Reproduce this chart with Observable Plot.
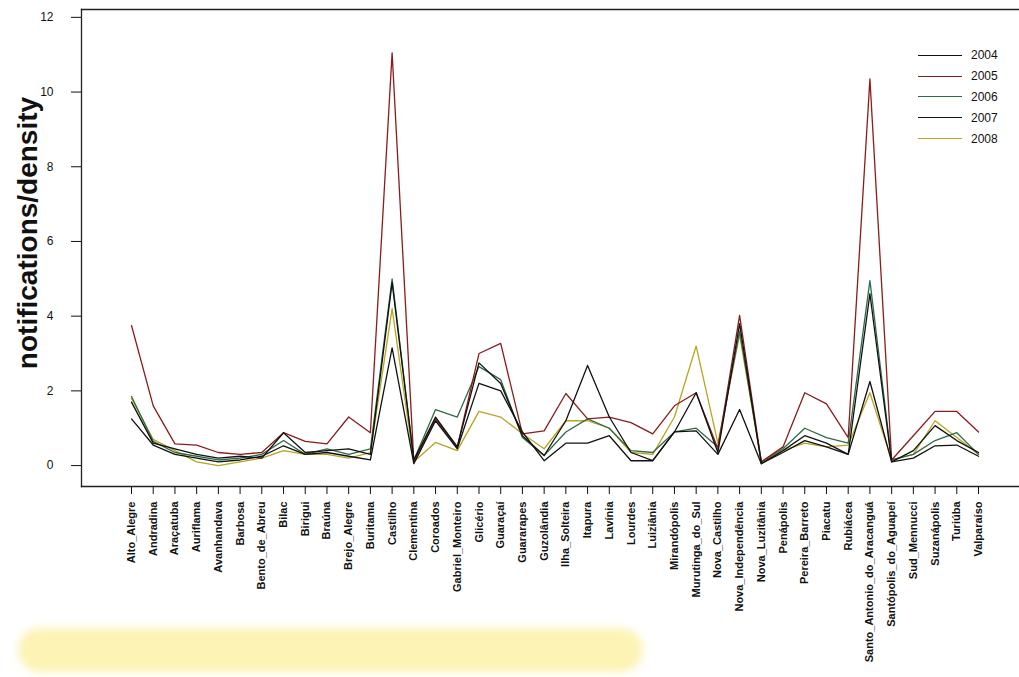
<!DOCTYPE html>
<html>
<head>
<meta charset="utf-8">
<script src="https://cdn.jsdelivr.net/npm/d3@7"></script>
<script src="https://cdn.jsdelivr.net/npm/@observablehq/plot@0.6"></script>
<style>
  body { margin: 0; background: #fff; }
  #wrap { position: relative; width: 1019px; height: 677px; overflow: hidden; background: #fff; }
  #blob { position: absolute; left: 18px; top: 628px; width: 625px; height: 44px; background: #fcf3b4; border-radius: 22px; filter: blur(4px); }
  #legend { position: absolute; left: 918px; top: 45px; font-family: "Liberation Sans", Arial, sans-serif; font-size: 12px; color: #111; }
  .item { display: flex; align-items: center; height: 20.8px; }
  .sw { width: 44px; height: 0; border-top: 1.5px solid #111; margin-right: 9px; }
  #chart { position: absolute; left: 0; top: 0; }
</style>
</head>
<body>
<div id="wrap">
  <div id="blob"></div>
  <div id="chart"></div>
  <div id="legend"></div>
</div>
<script>
const categories = ["Alto_Alegre","Andradina","Araçatuba","Auriflama","Avanhandava","Barbosa","Bento_de_Abreu","Bilac","Birigui","Braúna","Brejo_Alegre","Buritama","Castilho","Clementina","Coroados","Gabriel_Monteiro","Glicério","Guaraçaí","Guararapes","Guzolândia","Ilha_Solteira","Itapura","Lavínia","Lourdes","Luiziânia","Mirandópolis","Murutinga_do_Sul","Nova_Castilho","Nova_Independência","Nova_Luzitânia","Penápolis","Pereira_Barreto","Piacatu","Rubiácea","Santo_Antonio_do_Aracanguá","Santópolis_do_Aguapeí","Sud_Mennucci","Suzanápolis","Turiúba","Valparaíso"];

const years = ["2004","2005","2006","2007","2008"];

const v2004 = [1.7,0.6,0.45,0.3,0.2,0.25,0.2,0.88,0.35,0.4,0.45,0.3,4.9,0.15,1.3,0.5,2.75,2.2,0.8,0.27,1.2,2.68,1.3,0.35,0.13,0.9,1.95,0.35,3.8,0.05,0.4,0.8,0.6,0.3,4.6,0.1,0.4,1.07,0.67,0.35];
const v2005 = [3.75,1.6,0.58,0.55,0.35,0.3,0.35,0.88,0.65,0.58,1.3,0.88,11.05,0.1,1.25,0.5,3.0,3.27,0.85,0.93,1.93,1.25,1.3,1.15,0.85,1.6,1.95,0.45,4.02,0.1,0.5,1.95,1.65,0.75,10.35,0.15,0.8,1.45,1.45,0.9];
const v2006 = [1.85,0.65,0.35,0.25,0.15,0.2,0.3,0.67,0.3,0.45,0.3,0.45,5.0,0.15,1.5,1.3,2.65,2.3,0.75,0.27,0.9,1.25,1.0,0.4,0.35,0.9,1.0,0.5,3.6,0.1,0.45,1.0,0.75,0.6,4.95,0.15,0.3,0.67,0.88,0.3];
const v2007 = [1.25,0.55,0.3,0.2,0.1,0.15,0.25,0.53,0.3,0.35,0.25,0.15,3.15,0.05,1.2,0.45,2.2,2.0,0.9,0.13,0.6,0.6,0.8,0.13,0.13,0.9,0.93,0.3,1.5,0.05,0.35,0.67,0.5,0.3,2.25,0.1,0.2,0.53,0.55,0.25];
const v2008 = [1.8,0.7,0.4,0.1,0.0,0.1,0.2,0.4,0.3,0.3,0.2,0.35,4.2,0.1,0.62,0.4,1.45,1.3,0.85,0.45,1.2,1.2,1.0,0.35,0.3,1.3,3.2,0.6,3.5,0.1,0.4,0.6,0.5,0.55,1.95,0.15,0.3,1.2,0.75,0.3];

const yTicks = [0,2,4,6,8,10,12];
const yLabel = "notifications/density";

const colors = ["#111111","#8a1c1c","#2e6b47","#111111","#b8a51f"];

const seriesValues = {"2004": v2004, "2005": v2005, "2006": v2006, "2007": v2007, "2008": v2008};
const drawOrder = ["2008","2006","2005","2004","2007"];
const data = drawOrder.flatMap(year => categories.map((city, i) => ({idx: i, city, year, value: seriesValues[year][i]})));
const xIndex = categories.map((c, i) => i);

const chart = Plot.plot({
  width: 1019,
  height: 677,
  marginLeft: 81,
  marginRight: 0,
  marginTop: 9,
  marginBottom: 191,
  style: {background: "transparent", fontFamily: "Liberation Sans, Arial, sans-serif", color: "#111"},
  x: {type: "linear", domain: [0, categories.length - 1], range: [131, 978], label: null},
  y: {domain: [-0.56, 12.21], label: null},
  color: {domain: years, range: colors},
  marks: [
    Plot.frame({anchor: "top", stroke: "#222", strokeWidth: 1.3}),
    Plot.frame({anchor: "bottom", stroke: "#222", strokeWidth: 1.3}),
    Plot.frame({anchor: "left", stroke: "#222", strokeWidth: 1.3}),
    Plot.axisY({ticks: yTicks, tickSize: 10, tickPadding: 18, fontSize: 12, label: null}),
    Plot.axisX({ticks: xIndex, tickFormat: i => categories[i], tickRotate: -90, tickSize: 8, tickPadding: 7, fontSize: 11, fontWeight: "bold", label: null}),
    Plot.lineY(data, {x: "idx", y: "value", z: "year", stroke: "year", strokeWidth: 1.3}),
    Plot.text([yLabel], {frameAnchor: "left", textAnchor: "middle", rotate: -90, dx: -53, dy: -15, fontSize: 28, fontWeight: "bold", fill: "#111"})
  ]
});
document.getElementById("chart").appendChild(chart);

const legend = document.getElementById("legend");
years.forEach((y, i) => {
  const item = document.createElement("div");
  item.className = "item";
  const sw = document.createElement("span");
  sw.className = "sw";
  sw.style.borderTopColor = colors[i];
  const t = document.createElement("span");
  t.textContent = y;
  item.appendChild(sw);
  item.appendChild(t);
  legend.appendChild(item);
});
</script>
</body>
</html>
